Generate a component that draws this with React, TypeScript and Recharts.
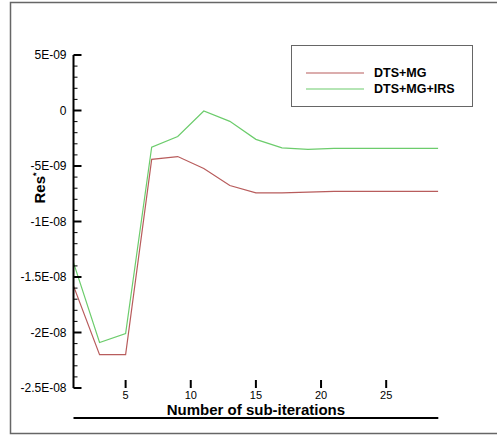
import { LineChart, Line, XAxis, YAxis, Legend } from 'recharts';

const iterations = [1, 3, 5, 7, 9, 11, 13, 15, 17, 19, 21, 23, 25, 27, 29];
const dtsMg = [
  -1.58e-8, -2.2e-8, -2.2e-8, -4.4e-9, -4.15e-9, -5.22e-9, -6.76e-9, -7.42e-9,
  -7.42e-9, -7.36e-9, -7.29e-9, -7.29e-9, -7.29e-9, -7.29e-9, -7.29e-9,
];
const dtsMgIrs = [
  -1.37e-8, -2.09e-8, -2.01e-8, -3.3e-9, -2.34e-9, -0.05e-9, -0.98e-9, -2.6e-9,
  -3.36e-9, -3.5e-9, -3.42e-9, -3.42e-9, -3.42e-9, -3.42e-9, -3.42e-9,
];

const yMajorValues = [5e-9, 0, -5e-9, -1e-8, -1.5e-8, -2e-8, -2.5e-8];
const yMajorLabels = ['5E-09', '0', '-5E-09', '-1E-08', '-1.5E-08', '-2E-08', '-2.5E-08'];
const xMajorValues = [5, 10, 15, 20, 25];

const seriesNames = ['DTS+MG', 'DTS+MG+IRS'];
const seriesColors = ['#b85c5c', '#6ccc6c'];

const data = iterations.map((it, i) => ({ it, a: dtsMg[i], b: dtsMgIrs[i] }));

// minor ticks: every 1E-09 on y, every 1 on x
const yTicks: number[] = [];
for (let k = 5; k >= -25; k--) yTicks.push(k * 1e-9);
const xMinorTicks: number[] = [];
for (let k = 1; k <= 29; k++) if (!xMajorValues.includes(k)) xMinorTicks.push(k);

const font = 'Arial, "Liberation Sans", sans-serif';

const YTick = (props: any) => {
  const { x, y, payload } = props;
  const idx = yMajorValues.findIndex((v) => Math.abs(v - payload.value) < 1e-12);
  const major = idx >= 0;
  return (
    <g>
      <line x1={x} x2={x + (major ? 8 : 4)} y1={y} y2={y} stroke="#000" strokeWidth={major ? 2 : 1} />
      {major && (
        <text x={x - 7} y={y + 4} textAnchor="end" fontSize={12} fontFamily={font} fill="#000">
          {yMajorLabels[idx]}
        </text>
      )}
    </g>
  );
};

const LegendBox = () => (
  <div
    style={{
      width: 182,
      height: 62,
      border: '1px solid #666',
      background: '#fff',
      boxSizing: 'border-box',
      position: 'relative',
      fontFamily: font,
    }}
  >
    {seriesNames.map((name, i) => (
      <div key={name} style={{ position: 'absolute', left: 14, top: 19 + i * 16, height: 16, display: 'flex', alignItems: 'center' }}>
        <svg width={58} height={4} style={{ display: 'block' }}>
          <line x1={0} x2={58} y1={2} y2={2} stroke={seriesColors[i]} strokeWidth={1.2} />
        </svg>
        <span style={{ marginLeft: 10, fontSize: 12.5, fontWeight: 'bold', color: '#000', lineHeight: '16px' }}>{name}</span>
      </div>
    ))}
  </div>
);

export default function App() {
  return (
    <div style={{ position: 'absolute', left: 0, top: 0, width: 497, height: 437, background: '#fff', overflow: 'hidden' }}>
      <svg width={497} height={437} style={{ position: 'absolute', left: 0, top: 0 }}>
        <rect x={10.5} y={2.5} width={500} height={431} fill="none" stroke="#666" strokeWidth={1.5} />
      </svg>
      <div style={{ position: 'absolute', left: 0, top: 0 }}>
        <LineChart width={497} height={437} data={data} margin={{ top: 55, right: 58.7, bottom: 18, left: 13.5 }}>
          {/* minor x ticks + axis line, sits right on the plot edge */}
          <XAxis
            xAxisId="minor"
            dataKey="it"
            type="number"
            domain={[1, 29]}
            ticks={xMinorTicks}
            interval={0}
            tickSize={-4}
            tick={false}
            height={1}
            axisLine={{ stroke: '#000', strokeWidth: 2 }}
            tickLine={{ stroke: '#000', strokeWidth: 1 }}
            allowDataOverflow
          />
          {/* major x ticks with labels and title */}
          <XAxis
            dataKey="it"
            type="number"
            domain={[1, 29]}
            ticks={xMajorValues}
            interval={0}
            tickSize={-8}
            tickMargin={11}
            tick={{ fontSize: 11, fill: '#000', fontFamily: font }}
            height={30}
            axisLine={false}
            tickLine={{ stroke: '#000', strokeWidth: 2 }}
            allowDataOverflow
            label={{
              value: 'Number of sub-iterations',
              position: 'insideBottom',
              offset: 3,
              style: { fontSize: 15, fontWeight: 'bold', fontFamily: font, fill: '#000' },
            }}
          />
          <YAxis
            type="number"
            domain={[-2.5e-8, 5e-9]}
            ticks={yTicks}
            interval={0}
            tickSize={0}
            tickMargin={0}
            tick={YTick}
            width={60}
            axisLine={{ stroke: '#000', strokeWidth: 2 }}
            tickLine={false}
            allowDataOverflow
            label={() => (
              <text
                transform="translate(45,188) rotate(-90)"
                textAnchor="middle"
                fontSize={15}
                fontWeight="bold"
                fontFamily={font}
                fill="#000"
              >
                Res
                <tspan fontSize={9} dy={-6}>*</tspan>
              </text>
            )}
          />
          <Legend
            verticalAlign="middle"
            align="center"
            content={() => <LegendBox />}
            wrapperStyle={{ position: 'absolute', left: 291, top: 45, width: 182, height: 62 }}
          />
          <Line type="linear" dataKey="a" name={seriesNames[0]} stroke={seriesColors[0]} strokeWidth={1.2} dot={false} isAnimationActive={false} />
          <Line type="linear" dataKey="b" name={seriesNames[1]} stroke={seriesColors[1]} strokeWidth={1.2} dot={false} isAnimationActive={false} />
        </LineChart>
      </div>
    </div>
  );
}
